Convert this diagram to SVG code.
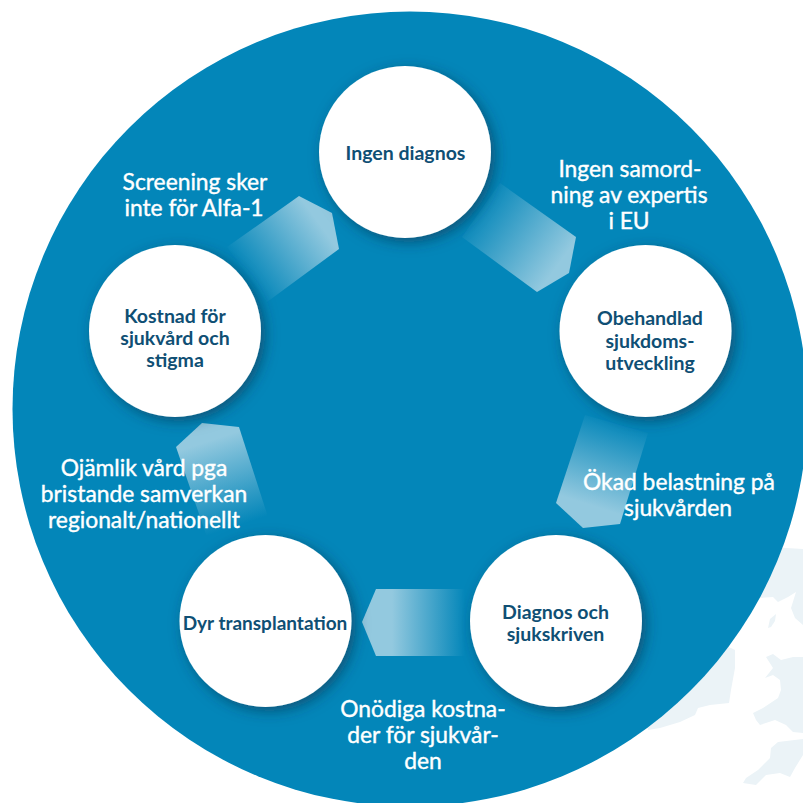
<svg xmlns="http://www.w3.org/2000/svg" width="803" height="803" viewBox="0 0 803 803">
<style>
.n{font:700 19.500px "Lato","Noto Sans",sans-serif;fill:#0f4f74;text-anchor:middle}
.l{font:400 22.800px "Lato","Noto Sans",sans-serif;fill:#fff;stroke:#fff;stroke-width:.4px;text-anchor:middle}
.a{stroke:none}
.c{fill:#fff;filter:url(#s)}
</style>
<defs>
<filter id="s" x="-30%" y="-30%" width="170%" height="170%"><feDropShadow dx="4" dy="4" stdDeviation="7" flood-color="#07324e" flood-opacity=".6"/></filter>
<linearGradient id="g1" gradientUnits="userSpaceOnUse" x1="476" y1="206" x2="558" y2="265"><stop offset="0" stop-color="#93c9df" stop-opacity="0"/><stop offset="1" stop-color="#93c9df"/></linearGradient>
<linearGradient id="g2" gradientUnits="userSpaceOnUse" x1="617" y1="420" x2="590" y2="505"><stop offset="0" stop-color="#93c9df" stop-opacity="0"/><stop offset="1" stop-color="#93c9df"/></linearGradient>
<linearGradient id="g3" gradientUnits="userSpaceOnUse" x1="465" y1="0" x2="392" y2="0"><stop offset="0" stop-color="#93c9df" stop-opacity="0"/><stop offset="1" stop-color="#93c9df"/></linearGradient>
<linearGradient id="g4" gradientUnits="userSpaceOnUse" x1="240" y1="525" x2="212" y2="440"><stop offset="0" stop-color="#93c9df" stop-opacity="0"/><stop offset="1" stop-color="#93c9df"/></linearGradient>
<linearGradient id="g5" gradientUnits="userSpaceOnUse" x1="245" y1="275" x2="318" y2="222"><stop offset="0" stop-color="#93c9df" stop-opacity="0"/><stop offset="1" stop-color="#93c9df"/></linearGradient>
</defs>
<rect width="803" height="803" fill="#fff"/>
<g id="map" fill="#ebf3f7">
<path d="M770 547L803 549V625L795 618L791 608L796 592L788 597L778 602L773 597L760 598L745 600Z"/>
<path d="M768 628L770 619L776 614L775 621L771 627Z"/>
<path d="M766 657L773 654L781 660L793 657H803V733L793 732L786 725L775 720L760 725L756 720L753 713L763 708L778 698L781 690L780 680L773 675L765 678L773 668Z"/>
<path d="M778 742L803 739V755L795 768L790 777L780 773L766 775L756 785L743 783L746 778L758 770L770 758L771 748Z"/>
<path d="M700 640L731 648L735 650L735 668L731 690L729 703L710 705L698 708L695 715L680 722L660 728L648 730L640 700Z"/>
</g>
<circle id="disc" cx="410" cy="409" r="397.5" fill="#0386b9"/>
<g id="connectors">
<polygon class="a" fill="url(#g1)" points="500,183 576,237 569,273 537,292 462,237"/>
<polygon class="a" fill="url(#g2)" points="585,415 648,433 620,524 583,528 556,503"/>
<polygon class="a" fill="url(#g3)" points="470,589 376,589 362,622 376,656 470,656"/>
<polygon class="a" fill="url(#g4)" points="202,423 239,427 268,517 207,537 176,447"/>
<polygon class="a" fill="url(#g5)" points="227,247 299,196 332,213 339,249 267,302"/>
</g>
<g id="node-ingen"><circle class="c" cx="405" cy="152" r="86"/><text class="n" x="405.500" y="160">Ingen diagnos</text></g>
<g id="node-obehandlad"><circle class="c" cx="645.500" cy="331" r="86"/><text class="n"><tspan x="650" y="325">Obehandlad</tspan><tspan x="650" y="348">sjukdoms-</tspan><tspan x="650" y="370">utveckling</tspan></text></g>
<g id="node-diagnos"><circle class="c" cx="556" cy="621" r="86"/><text class="n"><tspan x="555.500" y="619">Diagnos och</tspan><tspan x="555.500" y="641">sjukskriven</tspan></text></g>
<g id="node-dyr"><circle class="c" cx="265.500" cy="621" r="86"/><text class="n" x="265" y="630" style="font-size:19px">Dyr transplantation</text></g>
<g id="node-kostnad"><circle class="c" cx="175" cy="331" r="86"/><text class="n"><tspan x="175" y="323">Kostnad för</tspan><tspan x="175" y="345">sjukvård och</tspan><tspan x="175" y="367">stigma</tspan></text></g>
<g id="labels">
<text class="l"><tspan x="630" y="176.500">Ingen samord-</tspan><tspan x="629" y="202.500">ning av expertis</tspan><tspan x="629" y="228.500">i EU</tspan></text>
<text class="l"><tspan x="195" y="189.500">Screening sker</tspan><tspan x="194" y="215.500">inte för Alfa-1</tspan></text>
<text class="l"><tspan x="679" y="490">Ökad belastning på</tspan><tspan x="678" y="516">sjukvården</tspan></text>
<text class="l"><tspan x="423" y="717">Onödiga kostna-</tspan><tspan x="423" y="743">der för sjukvår-</tspan><tspan x="423" y="769">den</tspan></text>
<text class="l"><tspan x="144" y="475.500">Ojämlik vård pga</tspan><tspan x="144" y="501.500">bristande samverkan</tspan><tspan x="144" y="527.500">regionalt/nationellt</tspan></text>
</g>
</svg>
